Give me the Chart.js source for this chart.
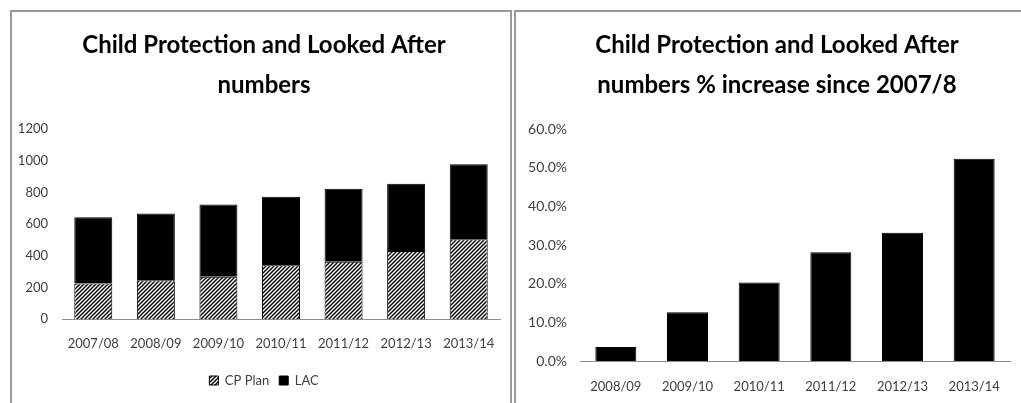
<!DOCTYPE html>
<html><head><meta charset="utf-8">
<script src="https://cdn.jsdelivr.net/npm/chart.js@4.4.0/dist/chart.umd.min.js"></script>
<style>
html,body{margin:0;padding:0;background:#fff;overflow:hidden;width:1021px;height:403px;}
.ln{position:absolute;background:#999;}
canvas{position:absolute;}
</style></head><body>
<div class="ln" style="left:10px;top:10px;width:2px;height:393px"></div>
<div class="ln" style="left:10px;top:10px;width:502px;height:2px"></div>
<div class="ln" style="left:510px;top:10px;width:2px;height:393px"></div>
<div class="ln" style="left:514px;top:10px;width:2px;height:393px"></div>
<div class="ln" style="left:514px;top:10px;width:507px;height:2px"></div>
<canvas id="c1" width="504" height="391" style="left:12px;top:12px;width:504px;height:391px"></canvas>
<canvas id="c2" width="522" height="391" style="left:516px;top:12px;width:522px;height:391px"></canvas>
<script>
// ---- data ----
const years = ['2007/08','2008/09','2009/10','2010/11','2011/12','2012/13','2013/14'];
const cpPlan = [225, 244, 267, 339, 362, 429, 503];
const lac = [418, 422, 456, 433, 460, 425, 474];
const pctYears = ['2008/09','2009/10','2010/11','2011/12','2012/13','2013/14'];
const pctIncrease = [3.6, 12.6, 20.3, 28.1, 33.2, 52.3];
const title1 = ['Child Protection and Looked After', 'numbers'];
const title2 = ['Child Protection and Looked After', 'numbers % increase since 2007/8'];

const tickFont = {family: "Lato, 'Open Sans', sans-serif", size: 13};
const pctTickFont = {family: "Lato, 'Open Sans', sans-serif", size: 14};
const titleFont = {family: "Lato, sans-serif", size: 24, weight: 'bold', lineHeight: 40/24};
const tickColor = '#404040';
Chart.defaults.animation = false;
Chart.defaults.plugins.tooltip.enabled = false;

function hatchPattern(ctx) {
  const c = document.createElement('canvas');
  c.width = 4; c.height = 4;
  const g = c.getContext('2d');
  g.fillStyle = '#fff'; g.fillRect(0, 0, 4, 4);
  g.strokeStyle = '#000'; g.lineWidth = 1.4;
  g.beginPath();
  g.moveTo(-1, 5); g.lineTo(5, -1);
  g.moveTo(-1, 1); g.lineTo(1, -1);
  g.moveTo(3, 5); g.lineTo(5, 3);
  g.stroke();
  return ctx.createPattern(c, 'repeat');
}

// invisible right-hand spacer axis so the centred title sits where the reference has it
function spacer(w) {
  return {position: 'right', display: true, grid: {display: false, drawTicks: false},
          border: {display: false}, ticks: {display: false}, afterFit: s => { s.width = w; }};
}

const ctx1 = document.getElementById('c1').getContext('2d');
new Chart(ctx1, {
  type: 'bar',
  data: {
    labels: years,
    datasets: [
      {label: 'CP Plan', data: cpPlan, backgroundColor: hatchPattern(ctx1), borderColor: '#000', borderWidth: 1,
       barPercentage: 0.607, categoryPercentage: 1},
      {label: 'LAC', data: lac, backgroundColor: '#000', borderColor: '#000', borderWidth: 1,
       barPercentage: 0.607, categoryPercentage: 1}
    ]
  },
  options: {
    responsive: false,
    layout: {padding: {left: 0, right: 0, top: 0, bottom: 6}},
    plugins: {
      title: {display: true, text: title1, color: '#000', font: titleFont, padding: {top: 13, bottom: 24}},
      legend: {display: true, position: 'bottom',
        labels: {color: tickColor, font: tickFont, boxWidth: 9, boxHeight: 9, padding: 10}}
    },
    scales: {
      x: {stacked: true, grid: {display: false, drawTicks: false},
          border: {display: true, color: '#8c8c8c', width: 1},
          ticks: {color: tickColor, font: tickFont, padding: 17, maxRotation: 0},
          afterFit: s => { s.height = 45; }},
      y: {stacked: true, min: 0, max: 1200, grid: {display: false, drawTicks: false},
          border: {display: false},
          ticks: {stepSize: 200, color: tickColor, font: tickFont, padding: 14,
                  callback: v => String(v)},
          afterFit: s => { s.width = 50; }},
      ySpace: spacer(16)
    }
  }
});

const ctx2 = document.getElementById('c2').getContext('2d');
new Chart(ctx2, {
  type: 'bar',
  data: {
    labels: pctYears,
    datasets: [
      {label: '% increase', data: pctIncrease, backgroundColor: '#000', borderColor: '#000', borderWidth: 1,
       barPercentage: 0.572, categoryPercentage: 1}
    ]
  },
  options: {
    responsive: false,
    layout: {padding: {left: 0, right: 0, top: 0, bottom: 0}},
    plugins: {
      title: {display: true, text: title2, color: '#000', font: titleFont, padding: {top: 13, bottom: 24}},
      legend: {display: false}
    },
    scales: {
      x: {grid: {display: false, drawTicks: false},
          border: {display: true, color: '#8c8c8c', width: 1},
          ticks: {color: tickColor, font: tickFont, padding: 18, maxRotation: 0},
          afterFit: s => { s.height = 42; }},
      y: {min: 0, max: 60, grid: {display: false, drawTicks: false},
          border: {display: false},
          ticks: {stepSize: 10, color: tickColor, font: pctTickFont, padding: 13,
                  callback: v => Number(v).toFixed(1) + '%'},
          afterFit: s => { s.width = 64; }},
      ySpace: spacer(28)
    }
  }
});
</script>
</body></html>
